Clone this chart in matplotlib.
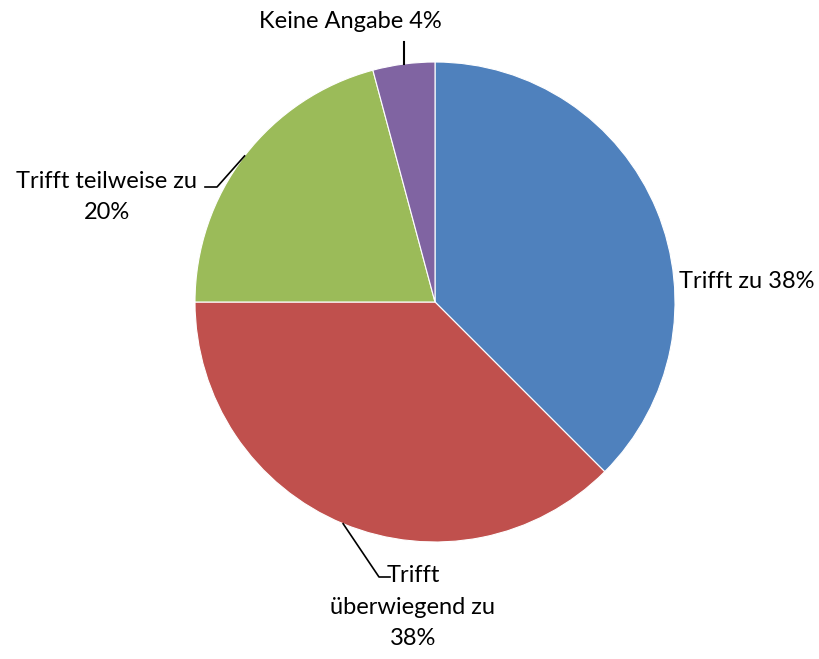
import numpy as np
import matplotlib
matplotlib.use("Agg")
import matplotlib.pyplot as plt

categories = ["Trifft zu", "Trifft überwiegend zu", "Trifft teilweise zu", "Keine Angabe"]
counts = [9, 9, 5, 1]
label_texts = ["Trifft zu 38%", "Trifft\nüberwiegend zu\n38%", "Trifft teilweise zu\n20%", "Keine Angabe 4%"]
colors = ["#4F81BD", "#C0504D", "#9BBB59", "#8064A2"]

plt.rcParams['font.family'] = ['Lato', 'DejaVu Sans']

W, H = 819, 659
fig = plt.figure(figsize=(W / 100, H / 100), dpi=100)
ax = fig.add_axes([0, 0, 1, 1])

cx, cy, r = 435, H - 302, 240
wedges, _ = ax.pie(counts, colors=colors, startangle=90, counterclock=False,
                   center=(cx, cy), radius=r, frame=True,
                   wedgeprops=dict(edgecolor='white', linewidth=0.8))
ax.set_xlim(0, W)
ax.set_ylim(0, H)
ax.set_aspect('equal')
ax.axis('off')

fs = 17
# Trifft zu: no leader line
ax.text(679, H - 281, label_texts[0], fontsize=fs, ha='left', va='center')


def edge_point(w):
    a = np.deg2rad((w.theta1 + w.theta2) / 2)
    return cx + r * np.cos(a), cy + r * np.sin(a)

# Trifft überwiegend zu
x0, y0 = edge_point(wedges[1])
ax.plot([x0, 379, 390], [y0, H - 577, H - 577], color='black', lw=1.2)
ax.text(413, H - 607, label_texts[1], fontsize=fs, ha='center', va='center',
        linespacing=1.6)

# Trifft teilweise zu
x0, y0 = edge_point(wedges[2])
ax.plot([x0, 217, 205], [y0, H - 187, H - 187], color='black', lw=1.2)
ax.text(107, H - 197, label_texts[2], fontsize=fs, ha='center', va='center',
        linespacing=1.6)

# Keine Angabe
x0, y0 = edge_point(wedges[3])
ax.plot([x0, x0], [y0, H - 42], color='black', lw=1.5)
ax.text(350, H - 22, label_texts[3], fontsize=fs, ha='center', va='center')

fig.savefig("out.png", dpi=100)
